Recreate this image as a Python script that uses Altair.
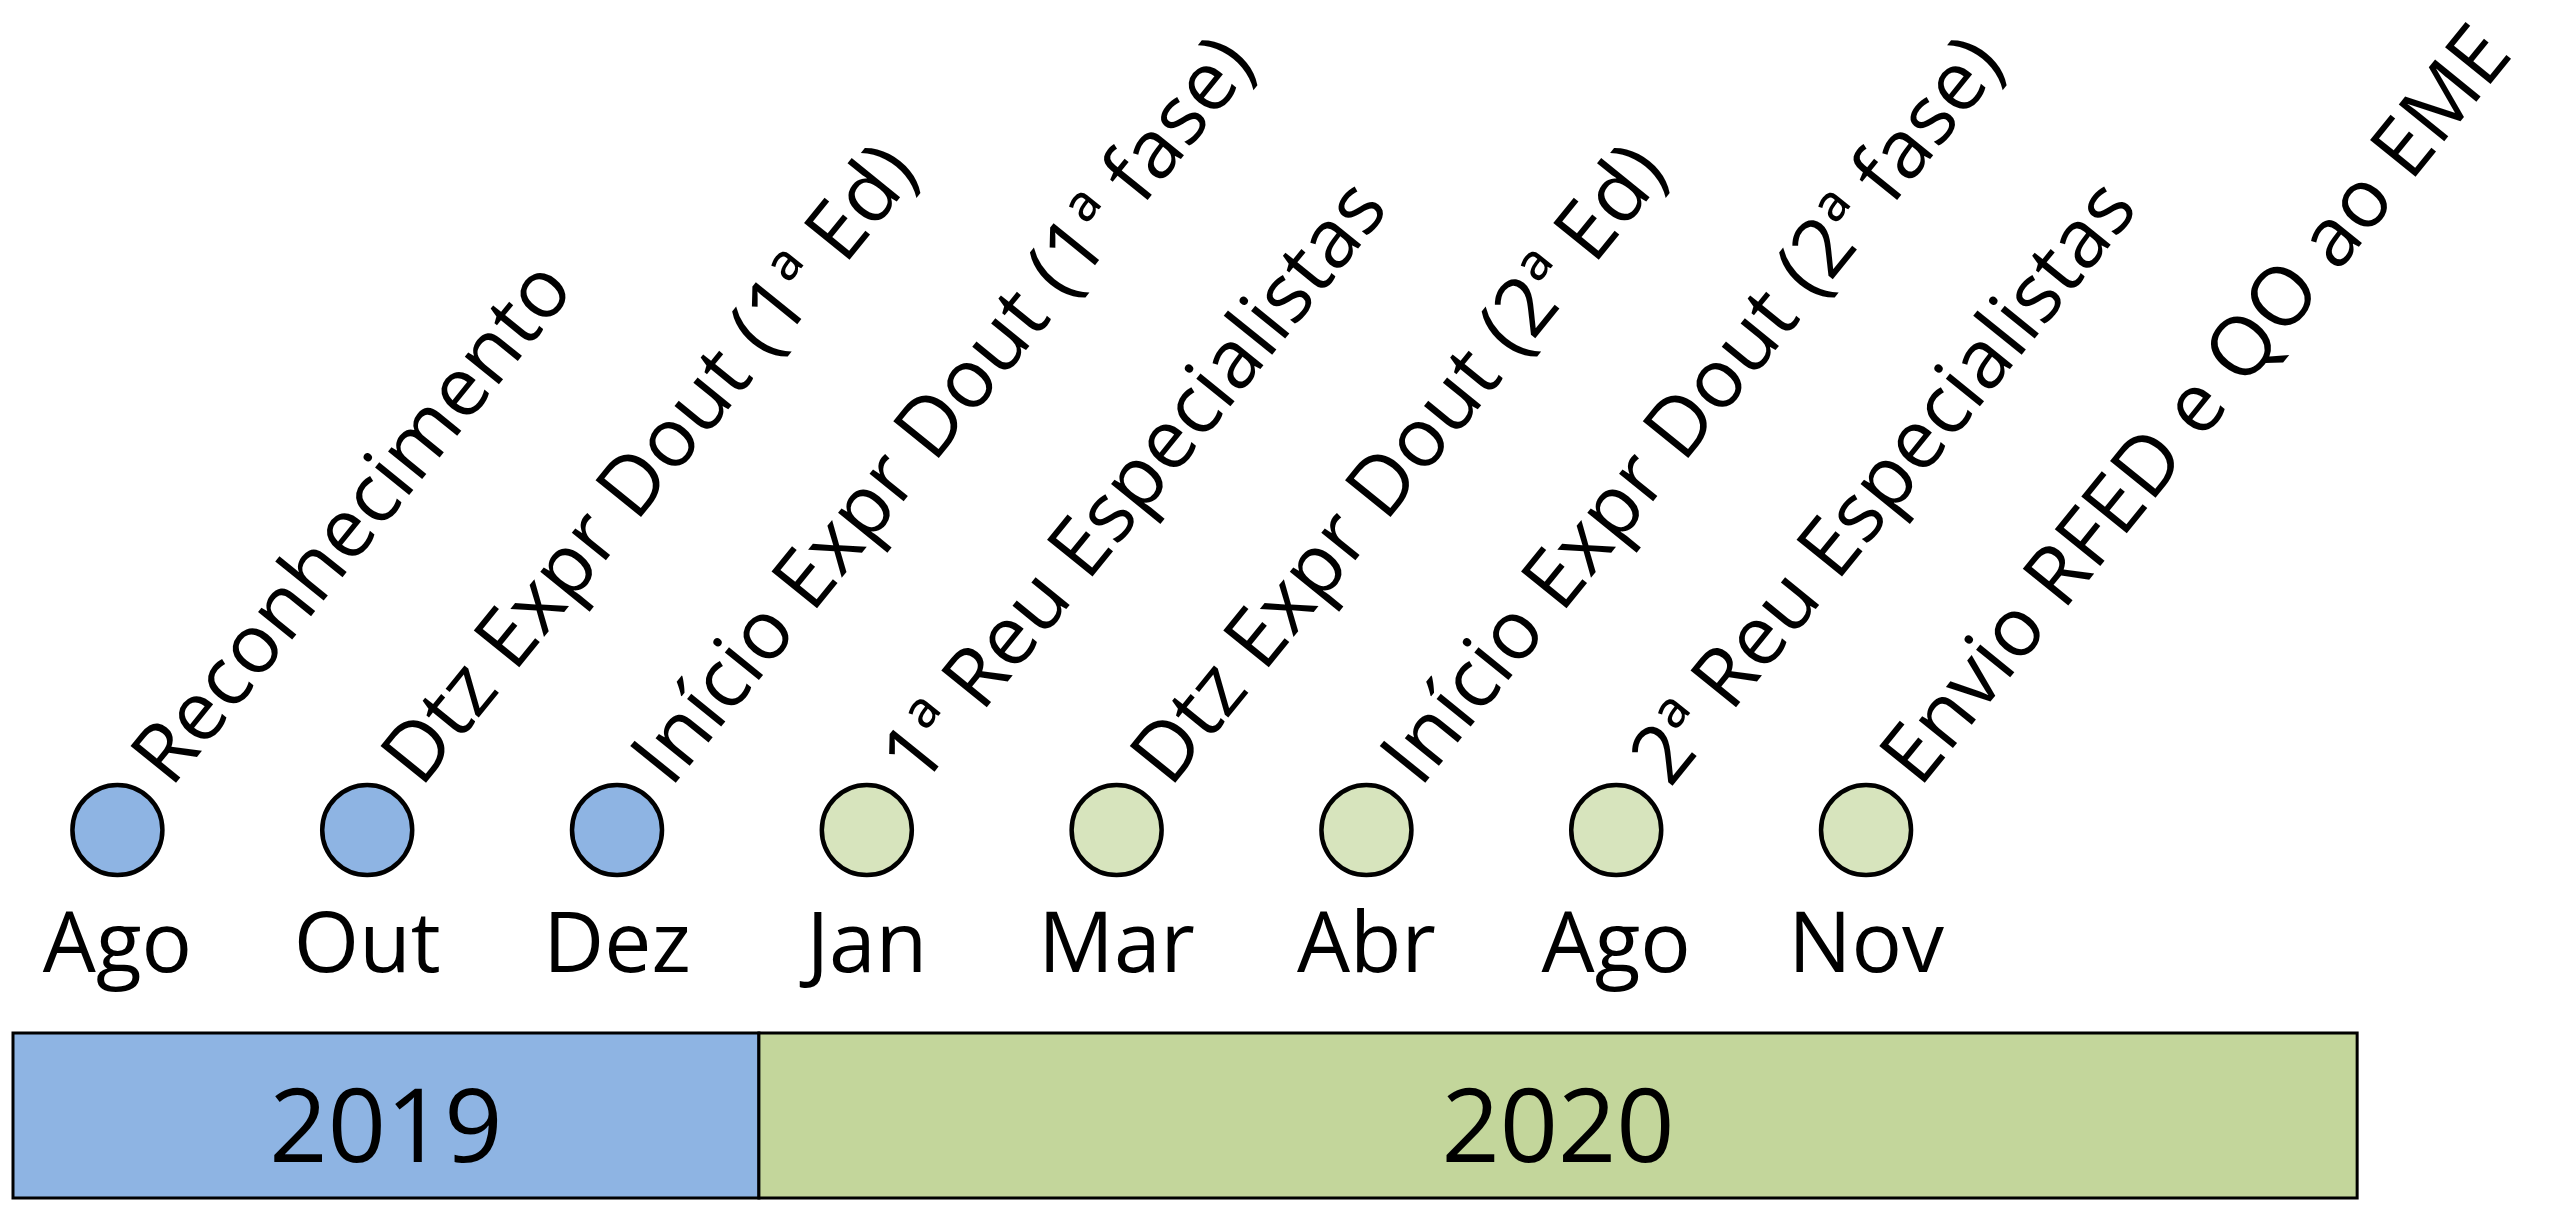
import altair as alt
import pandas as pd

# ---- data ----
events = [
    "Reconhecimento",
    "Dtz Expr Dout (1ª Ed)",
    "Início Expr Dout (1ª fase)",
    "1ª Reu Especialistas",
    "Dtz Expr Dout (2ª Ed)",
    "Início Expr Dout (2ª fase)",
    "2ª Reu Especialistas",
    "Envio RFED e QO ao EME",
]
months = ["Ago", "Out", "Dez", "Jan", "Mar", "Abr", "Ago", "Nov"]
event_years = ["2019", "2019", "2019", "2020", "2020", "2020", "2020", "2020"]
years = ["2019", "2020"]

circle_colors = ["#8EB4E3", "#D7E4BD"]
bar_colors = ["#8EB4E3", "#C3D69B"]

# ---- layout ----
W, H = 2538, 1192
FONT = "Open Sans"

ev = pd.DataFrame({
    "idx": list(range(len(events))),
    "event": events,
    "month": months,
    "year": event_years,
})

# year bands spanning the event slots of each year
starts, ends = [], []
for y in years:
    ids = [i for i, yy in enumerate(event_years) if yy == y]
    starts.append(min(ids))
    ends.append(max(ids))
bar_start = [starts[0] - 0.418, ends[0] + 0.568]
bar_end = [ends[0] + 0.568, ends[1] + 1.966]
bars = pd.DataFrame({"year": years, "start": bar_start, "end": bar_end})

xscale = alt.Scale(domain=[-0.438, 9.722], nice=False, zero=False)

bar = alt.Chart(bars).mark_rect(stroke="black", strokeWidth=3).encode(
    x=alt.X("start:Q", scale=xscale, axis=None),
    x2="end:Q",
    y=alt.value(1025),
    y2=alt.value(1190),
    color=alt.Color("year:N", scale=alt.Scale(domain=years, range=bar_colors), legend=None),
)

year_text = alt.Chart(bars).transform_calculate(
    mid="(datum.start + datum.end) / 2"
).mark_text(font=FONT, fontSize=102, align="center", baseline="alphabetic", color="black").encode(
    x=alt.X("mid:Q", scale=xscale, axis=None),
    y=alt.value(1154),
    text="year:N",
)

circles = alt.Chart(ev).mark_point(
    shape="circle", filled=True, size=8100, stroke="black", strokeWidth=4.5, opacity=1
).encode(
    x=alt.X("idx:Q", scale=xscale, axis=None),
    y=alt.value(822),
    fill=alt.Fill("year:N", scale=alt.Scale(domain=years, range=circle_colors), legend=None),
)

month_text = alt.Chart(ev).mark_text(
    font=FONT, fontSize=84, align="center", baseline="alphabetic", color="black"
).encode(
    x=alt.X("idx:Q", scale=xscale, axis=None),
    y=alt.value(964),
    text="month:N",
)

event_text = alt.Chart(ev).transform_calculate(
    tx="datum.idx + 0.215"
).mark_text(
    font=FONT, fontSize=82, align="left", baseline="alphabetic", angle=309, color="black"
).encode(
    x=alt.X("tx:Q", scale=xscale, axis=None),
    y=alt.value(781),
    text="event:N",
)

chart = alt.layer(bar, year_text, circles, month_text, event_text).resolve_scale(
    color="independent"
).properties(
    width=W,
    height=H,
    padding=0,
    autosize=alt.AutoSizeParams(type="none"),
    background="white",
).configure_view(stroke=None)

chart.save("out.html", embed_options={"renderer": "svg", "actions": False})
